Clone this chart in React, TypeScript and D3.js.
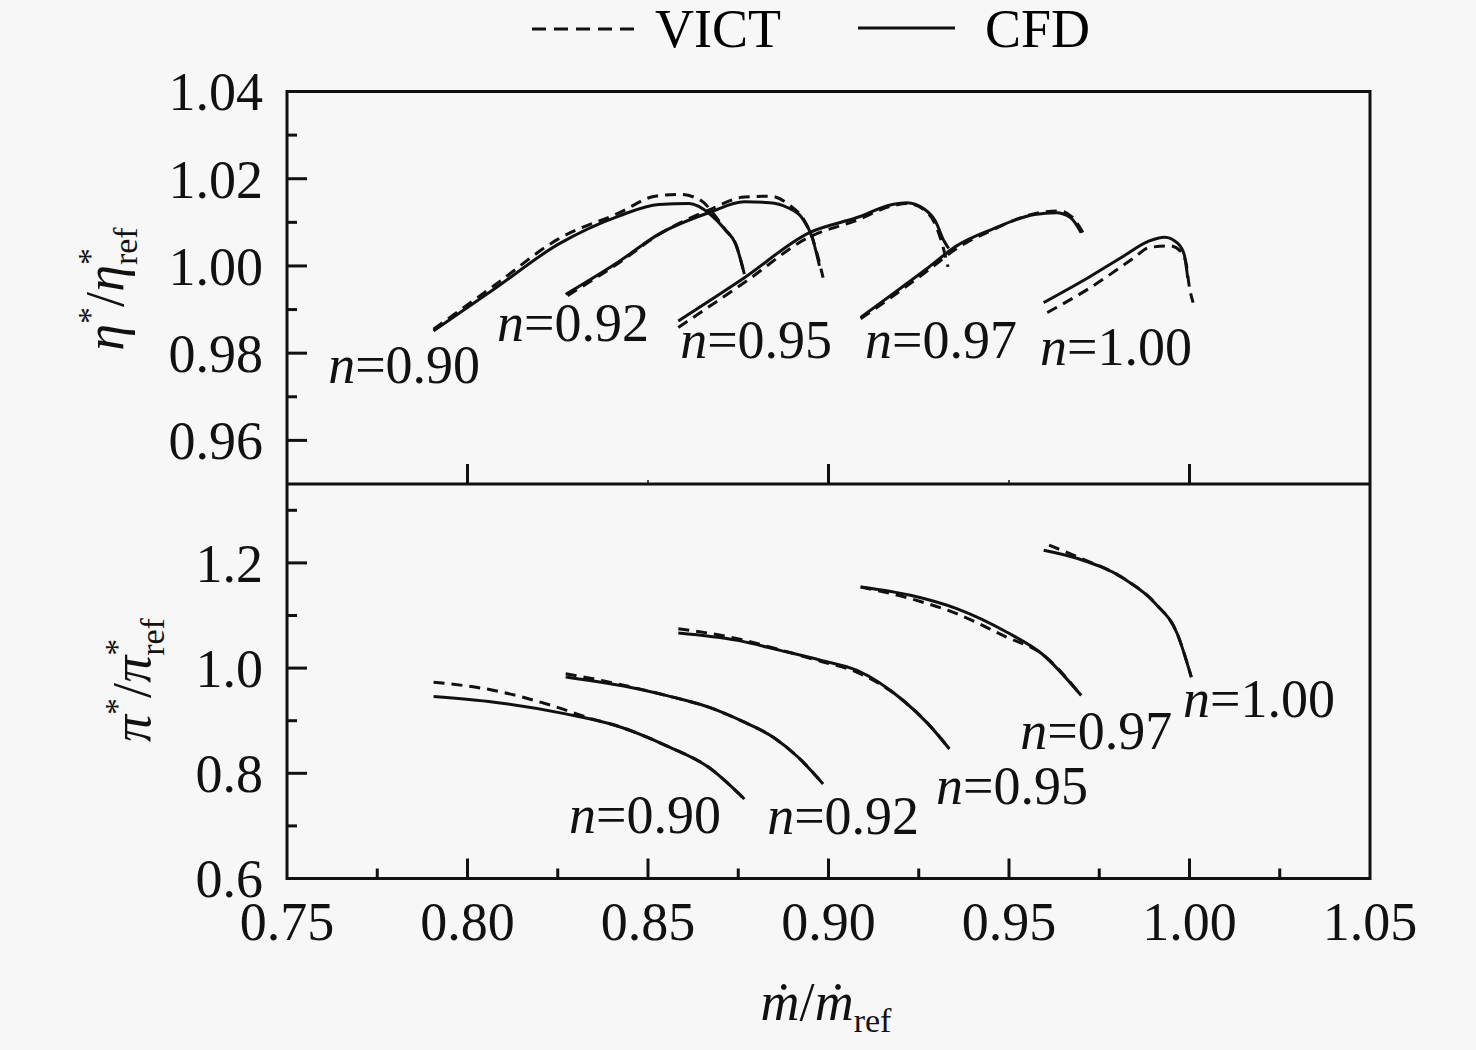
import React from 'react';
import * as d3 from 'd3';

type Pt = [number, number];

// efficiency ratio eta*/eta*_ref vs mass flow ratio, per relative speed
const etaCfd090: Pt[] = [[0.7906, 0.9851], [0.8074, 0.9947], [0.8252, 1.005], [0.8421, 1.0115], [0.853, 1.0141], [0.8614, 1.0143], [0.8673, 1.0118], [0.8713, 1.0084], [0.8743, 1.005], [0.8767, 0.9981]];
const etaVict090: Pt[] = [[0.7906, 0.9855], [0.8074, 0.9955], [0.8252, 1.0062], [0.8421, 1.0122], [0.852, 1.016], [0.8589, 1.0164], [0.8649, 1.0149], [0.8683, 1.0118], [0.8713, 1.0084], [0.8743, 1.005], [0.8767, 0.9981]];
const etaCfd092: Pt[] = [[0.8272, 0.9935], [0.8421, 1.0011], [0.853, 1.0073], [0.8668, 1.0122], [0.8767, 1.0147], [0.8837, 1.0145], [0.8886, 1.0134], [0.8926, 1.0111], [0.8955, 1.0065], [0.8975, 1.0]];
const etaVict092: Pt[] = [[0.8277, 0.9932], [0.8421, 1.0008], [0.853, 1.0072], [0.8668, 1.0128], [0.8767, 1.0158], [0.8837, 1.016], [0.8896, 1.0137], [0.8931, 1.0107], [0.8955, 1.0065], [0.8985, 0.9973]];
const etaCfd095: Pt[] = [[0.8584, 0.9874], [0.8767, 0.9973], [0.8946, 1.0076], [0.9079, 1.0111], [0.9177, 1.0141], [0.9217, 1.0145], [0.9266, 1.013], [0.9296, 1.0103], [0.932, 1.0057], [0.9333, 1.004]];
const etaVict095: Pt[] = [[0.8584, 0.9859], [0.8767, 0.9962], [0.8946, 1.0066], [0.9079, 1.0105], [0.9177, 1.0138], [0.9217, 1.0143], [0.9266, 1.0128], [0.9296, 1.0095], [0.9315, 1.005], [0.9331, 0.9998]];
const etaCfd097: Pt[] = [[0.9089, 0.9882], [0.9177, 0.9935], [0.9276, 0.9996], [0.9355, 1.0046], [0.9453, 1.0084], [0.9571, 1.0118], [0.9631, 1.0122], [0.967, 1.0111], [0.97, 1.0076]];
const etaVict097: Pt[] = [[0.9089, 0.9879], [0.9177, 0.993], [0.9276, 0.999], [0.9355, 1.004], [0.9453, 1.0082], [0.9571, 1.012], [0.9641, 1.0126], [0.9675, 1.0112], [0.9705, 1.0076]];
const etaCfd100: Pt[] = [[0.9596, 0.9916], [0.9719, 0.9973], [0.9818, 1.0023], [0.9887, 1.0057], [0.9931, 1.0066], [0.9966, 1.0053], [0.9985, 1.0027], [0.9995, 0.9973]];
const etaVict100: Pt[] = [[0.9606, 0.9893], [0.9719, 0.9947], [0.9847, 1.0019], [0.9887, 1.0042], [0.9946, 1.0046], [0.9975, 1.0034], [0.999, 1.0008], [1.0, 0.995], [1.001, 0.9916]];

// pressure ratio pi*/pi*_ref vs mass flow ratio
const piCfd090: Pt[] = [[0.7906, 0.946], [0.8074, 0.9352], [0.8272, 0.913], [0.8411, 0.8908], [0.855, 0.8527], [0.8668, 0.8114], [0.8767, 0.7511]];
const piVict090: Pt[] = [[0.7906, 0.9733], [0.8074, 0.9575], [0.8233, 0.9289], [0.8342, 0.904], [0.8411, 0.8908], [0.855, 0.8527], [0.8668, 0.8114], [0.8767, 0.7511]];
const piCfd092: Pt[] = [[0.8272, 0.9829], [0.847, 0.9606], [0.8569, 0.9448], [0.8668, 0.9257], [0.8767, 0.8971], [0.8847, 0.8686], [0.8916, 0.8305], [0.8985, 0.7797]];
const piVict092: Pt[] = [[0.8272, 0.9892], [0.8371, 0.9765], [0.847, 0.9615], [0.8569, 0.9448], [0.8668, 0.9257], [0.8767, 0.8971], [0.8847, 0.8686], [0.8916, 0.8305], [0.8985, 0.7797]];
const piCfd095: Pt[] = [[0.8584, 1.0667], [0.8748, 1.0527], [0.8866, 1.0337], [0.898, 1.0146], [0.9079, 0.9956], [0.9207, 0.9384], [0.9276, 0.894], [0.9335, 0.8463]];
const piVict095: Pt[] = [[0.8584, 1.075], [0.8748, 1.056], [0.8866, 1.0347], [0.898, 1.0126], [0.9079, 0.992], [0.9207, 0.9384], [0.9276, 0.894], [0.9335, 0.8463]];
const piCfd097: Pt[] = [[0.9089, 1.1543], [0.9227, 1.1384], [0.9355, 1.113], [0.9493, 1.0686], [0.9591, 1.0273], [0.97, 0.9479]];
const piVict097: Pt[] = [[0.9089, 1.1543], [0.9227, 1.132], [0.9355, 1.1035], [0.9493, 1.059], [0.9591, 1.0273], [0.97, 0.9479]];
const piCfd100: Pt[] = [[0.9596, 1.2241], [0.969, 1.2083], [0.9818, 1.1702], [0.9906, 1.1225], [0.9966, 1.0654], [1.0005, 0.9829]];
const piVict100: Pt[] = [[0.9611, 1.2337], [0.969, 1.2114], [0.9818, 1.1702], [0.9906, 1.1225], [0.9966, 1.0654], [1.0005, 0.9829]];

const speedLabels = ['0.90', '0.92', '0.95', '0.97', '1.00'];
// label anchors (start x, baseline y) in data units
const etaLabelPos: Pt[] = [[0.7614, 0.9731], [0.8082, 0.9829], [0.8589, 0.9788], [0.9101, 0.9788], [0.9586, 0.9772]];
const piLabelPos: Pt[] = [[0.8281, 0.6871], [0.883, 0.6852], [0.9298, 0.7424], [0.9531, 0.8471], [0.9982, 0.9062]];

const xTicks = [0.75, 0.8, 0.85, 0.9, 0.95, 1.0, 1.05];
const etaTicks = [0.96, 0.98, 1.0, 1.02, 1.04];
const piTicks = [0.6, 0.8, 1.0, 1.2];

const etaCfd = [etaCfd090, etaCfd092, etaCfd095, etaCfd097, etaCfd100];
const etaVict = [etaVict090, etaVict092, etaVict095, etaVict097, etaVict100];
const piCfd = [piCfd090, piCfd092, piCfd095, piCfd097, piCfd100];
const piVict = [piVict090, piVict092, piVict095, piVict097, piVict100];

const FONT = '"Liberation Serif", "Times New Roman", serif';
const FS = 54;

export default function App() {
  const left = 287, right = 1370, top = 91.5, mid = 484, bottom = 878.5;
  const x = d3.scaleLinear().domain([0.75, 1.05]).range([left, right]);
  const yEta = d3.scaleLinear().domain([0.95, 1.04]).range([mid, top]);
  const yPi = d3.scaleLinear().domain([0.6, 1.35]).range([bottom, mid]);

  const lineEta = d3.line<Pt>().x(d => x(d[0])).y(d => yEta(d[1])).curve(d3.curveMonotoneX);
  const linePi = d3.line<Pt>().x(d => x(d[0])).y(d => yPi(d[1])).curve(d3.curveMonotoneX);

  const etaMinor = d3.range(0.97, 1.035, 0.02);
  const piMinor = d3.range(0.7, 1.35, 0.2);
  const xMinor = d3.range(0.775, 1.05, 0.05);

  const stroke = '#111';
  const curveW = 3;
  const dash = '11 7';

  const nLabel = (txt: string, p: Pt, ys: d3.ScaleLinear<number, number>, key: string) => (
    <text key={key} x={x(p[0])} y={ys(p[1])} fontSize={FS} fontFamily={FONT} fill={stroke}>
      <tspan fontStyle="italic">n</tspan>={txt}
    </text>
  );

  return (
    <svg width={1476} height={1050} style={{ position: 'absolute', left: 0, top: 0, background: '#f7f7f7' }}>
      {/* legend */}
      <line x1={532} x2={640} y1={29} y2={29} stroke={stroke} strokeWidth={3} strokeDasharray="14 8" />
      <text x={655} y={47} fontSize={FS} fontFamily={FONT}>VICT</text>
      <line x1={858} x2={955} y1={28} y2={28} stroke={stroke} strokeWidth={3} />
      <text x={985} y={47} fontSize={FS} fontFamily={FONT}>CFD</text>

      {/* curves */}
      <g fill="none" stroke={stroke} strokeWidth={curveW} strokeLinejoin="round">
        {etaCfd.map((d, i) => <path key={'ec' + i} d={lineEta(d) || ''} />)}
        {etaVict.map((d, i) => <path key={'ev' + i} d={lineEta(d) || ''} strokeDasharray={dash} />)}
        {piCfd.map((d, i) => <path key={'pc' + i} d={linePi(d) || ''} />)}
        {piVict.map((d, i) => <path key={'pv' + i} d={linePi(d) || ''} strokeDasharray={dash} />)}
      </g>

      {/* ticks */}
      <g stroke={stroke} strokeWidth={3}>
        {etaTicks.filter(t => t < 1.035).map(t => <line key={'et' + t} x1={left} x2={left + 20} y1={yEta(t)} y2={yEta(t)} />)}
        {etaMinor.map(t => <line key={'em' + t} x1={left} x2={left + 10} y1={yEta(t)} y2={yEta(t)} />)}
        {piTicks.filter(t => t > 0.65).map(t => <line key={'pt' + t} x1={left} x2={left + 20} y1={yPi(t)} y2={yPi(t)} />)}
        {piMinor.map(t => <line key={'pm' + t} x1={left} x2={left + 10} y1={yPi(t)} y2={yPi(t)} />)}
        {xTicks.slice(1, -1).map(t => (
          <line key={'xt' + t} x1={x(t)} x2={x(t)} y1={bottom} y2={bottom - 20} />
        ))}
        {xMinor.map(t => <line key={'xm' + t} x1={x(t)} x2={x(t)} y1={bottom} y2={bottom - 10} />)}
        {xTicks.slice(1, -1).map((t, i) => (
          <line key={'xtt' + t} x1={x(t)} x2={x(t)} y1={mid} y2={mid - (i % 2 === 0 ? 20 : 4)} strokeWidth={i % 2 === 0 ? 3 : 1.5} />
        ))}
      </g>

      {/* frames */}
      <g fill="none" stroke={stroke} strokeWidth={3}>
        <rect x={left} y={top} width={right - left} height={bottom - top} />
        <line x1={left} x2={right} y1={mid} y2={mid} />
      </g>

      {/* tick labels */}
      <g fontSize={FS} fontFamily={FONT} fill={stroke}>
        {etaTicks.map(t => (
          <text key={'el' + t} x={left - 24} y={yEta(t)} dy="0.35em" textAnchor="end">{t.toFixed(2)}</text>
        ))}
        {piTicks.map(t => (
          <text key={'pl' + t} x={left - 24} y={yPi(t)} dy="0.35em" textAnchor="end">{t.toFixed(1)}</text>
        ))}
        {xTicks.map(t => (
          <text key={'xl' + t} x={x(t)} y={940} textAnchor="middle">{t.toFixed(2)}</text>
        ))}
      </g>

      {/* speed labels */}
      {speedLabels.map((s, i) => nLabel(s, etaLabelPos[i], yEta, 'ne' + i))}
      {speedLabels.map((s, i) => nLabel(s, piLabelPos[i], yPi, 'np' + i))}

      {/* axis titles */}
      <text transform="translate(123,289) rotate(-90)" textAnchor="middle" fontSize={FS} fontFamily={FONT} fill={stroke}>
        <tspan fontStyle="italic">η</tspan>
        <tspan fontSize={34} dy={-22}>*</tspan>
        <tspan dy={22}>/</tspan>
        <tspan fontStyle="italic">η</tspan>
        <tspan fontSize={34} dy={-22}>*</tspan>
        <tspan fontSize={34} dx={-17} dy={36}>ref</tspan>
      </text>
      <text transform="translate(150,680) rotate(-90)" textAnchor="middle" fontSize={FS} fontFamily={FONT} fill={stroke}>
        <tspan fontStyle="italic">π</tspan>
        <tspan fontSize={34} dy={-22}>*</tspan>
        <tspan dy={22}>/</tspan>
        <tspan fontStyle="italic">π</tspan>
        <tspan fontSize={34} dy={-22}>*</tspan>
        <tspan fontSize={34} dx={-17} dy={36}>ref</tspan>
      </text>
      <text x={826} y={1020} textAnchor="middle" fontSize={FS} fontFamily={FONT} fill={stroke}>
        <tspan fontStyle="italic">ṁ</tspan>
        <tspan>/</tspan>
        <tspan fontStyle="italic">ṁ</tspan>
        <tspan fontSize={34} dy={12}>ref</tspan>
      </text>
    </svg>
  );
}
